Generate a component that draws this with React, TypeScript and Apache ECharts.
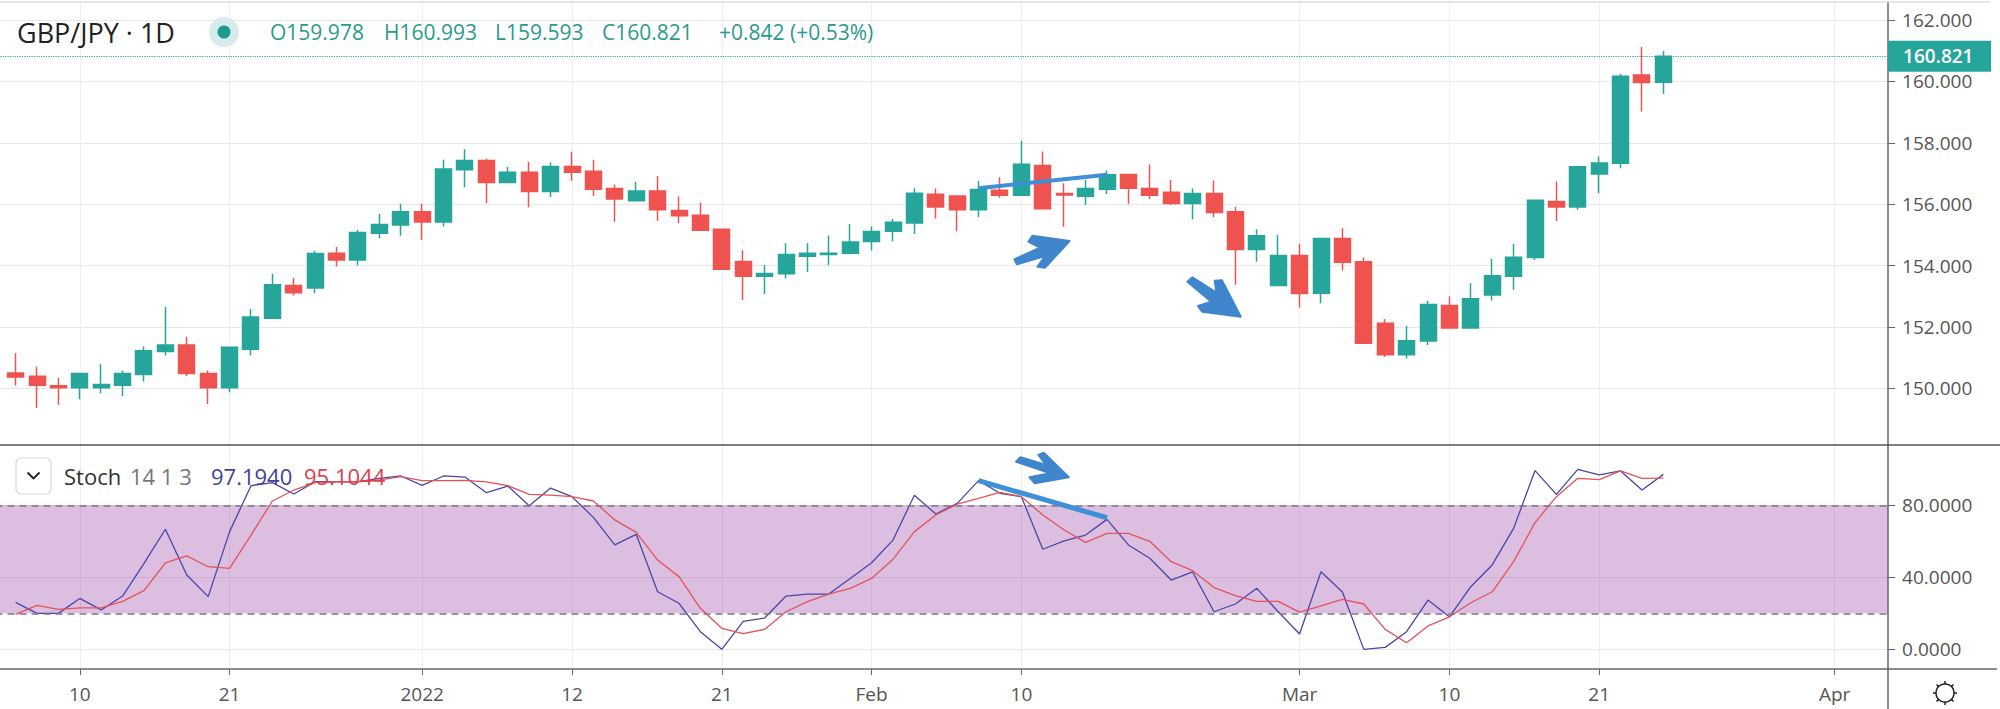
import {useEffect, useRef} from 'react';
import * as echarts from 'echarts';

const FONT = '"Open Sans", sans-serif';
const UP = '#26a69a';
const DOWN = '#ef5350';
const TREND = '#3f8fd9';

// one value per daily bar
const opens = [
    150.50, 150.39, 150.08, 150.02, 150.02, 150.10, 150.45, 151.20, 151.41, 150.48,
    150.02, 151.27, 152.28, 153.35, 153.27, 154.40, 154.18, 155.05, 155.32, 155.75,
    155.42, 157.12, 157.42, 156.71, 157.04, 156.41, 157.23, 157.07, 156.51, 156.11,
    156.43, 155.79, 155.64, 155.18, 154.13, 153.65, 153.73, 154.30, 154.36, 154.40,
    154.78, 155.12, 155.39, 156.32, 156.27, 155.82, 156.45, 156.29, 157.26, 156.35,
    156.26, 156.49, 156.97, 156.51, 156.39, 156.02, 156.35, 155.75, 154.52, 153.35,
    154.33, 153.10, 154.88, 154.12, 152.12, 151.09, 151.54, 152.70, 151.96, 153.04,
    153.65, 154.26, 156.09, 155.91, 156.98, 157.33, 160.21, 159.978
];
const closes = [
    150.37, 150.10, 150.02, 150.48, 150.12, 150.48, 151.22, 151.41, 150.48, 150.02,
    151.34, 152.32, 153.37, 153.11, 154.39, 154.18, 155.08, 155.34, 155.75, 155.42,
    157.15, 157.42, 156.71, 157.04, 156.41, 157.23, 157.04, 156.49, 156.17, 156.43,
    155.82, 155.62, 155.15, 153.88, 153.65, 153.74, 154.36, 154.40, 154.40, 154.77,
    155.11, 155.41, 156.36, 155.91, 155.82, 156.48, 156.29, 157.30, 155.85, 156.30,
    156.51, 156.96, 156.52, 156.29, 156.02, 156.35, 155.73, 154.52, 154.97, 154.33,
    153.09, 154.88, 154.11, 151.47, 151.09, 151.55, 152.73, 151.96, 152.92, 153.67,
    154.27, 156.13, 155.91, 157.22, 157.34, 160.17, 159.97, 160.821
];
const lows = [
    150.09, 149.36, 149.46, 149.64, 149.84, 149.75, 150.22, 151.07, 150.40, 149.49,
    149.87, 151.07, 152.28, 153.02, 153.10, 153.97, 154.00, 154.88, 154.97, 154.84,
    155.27, 156.55, 156.03, 156.68, 155.90, 156.23, 156.76, 156.27, 155.43, 156.09,
    155.46, 155.38, 155.15, 153.88, 152.88, 153.07, 153.58, 153.79, 154.01, 154.37,
    154.49, 154.79, 155.03, 155.53, 155.12, 155.58, 156.21, 156.29, 155.85, 155.26,
    155.97, 156.33, 156.01, 156.16, 155.97, 155.51, 155.57, 153.37, 154.12, 153.35,
    152.63, 152.77, 153.84, 151.47, 151.02, 150.97, 151.41, 151.96, 151.96, 152.86,
    153.21, 154.18, 155.45, 155.82, 156.36, 157.17, 159.02, 159.593
];
const highs = [
    151.14, 150.71, 150.33, 150.48, 150.78, 150.58, 151.36, 152.66, 151.68, 150.58,
    151.34, 152.58, 153.73, 153.60, 154.49, 154.60, 155.16, 155.68, 156.01, 156.01,
    157.45, 157.79, 157.48, 157.21, 157.38, 157.36, 157.71, 157.45, 156.64, 156.73,
    156.92, 156.25, 156.05, 155.18, 154.50, 154.02, 154.73, 154.73, 154.98, 155.35,
    155.27, 155.52, 156.52, 156.51, 156.27, 156.76, 156.88, 158.07, 157.72, 156.68,
    156.79, 157.10, 156.97, 157.29, 156.79, 156.51, 156.77, 155.92, 155.18, 155.00,
    154.70, 154.88, 155.22, 154.26, 152.26, 152.03, 152.85, 152.99, 153.42, 154.21,
    154.70, 156.13, 156.74, 157.22, 157.55, 160.25, 161.13, 160.993
];
const stochK = [
    26.1, 20.0, 20.0, 28.3, 21.9, 29.6, 47.8, 66.7, 41.3, 29.3,
    65.4, 90.9, 92.6, 86.3, 93.1, 93.1, 93.1, 95.0, 96.3, 91.1,
    96.3, 95.7, 87.0, 90.7, 79.8, 89.6, 84.8, 73.3, 58.0, 63.9,
    32.0, 25.6, 9.8, 0.0, 15.6, 17.4, 29.6, 30.7, 30.7, 39.4,
    48.1, 60.7, 85.6, 75.2, 81.1, 93.7, 86.7, 84.8, 55.6, 60.2,
    63.5, 72.2, 58.0, 50.6, 38.5, 43.0, 20.9, 25.2, 33.9, 20.9,
    8.5, 43.1, 31.9, 0.0, 1.1, 9.8, 27.4, 18.1, 34.8, 46.9,
    67.2, 99.3, 86.1, 100.0, 96.9, 99.1, 88.5, 97.19
];
const stochD = [
    19.4, 24.4, 22.2, 23.0, 23.1, 26.7, 32.6, 48.1, 51.9, 45.9,
    45.0, 63.5, 82.4, 88.5, 92.6, 93.1, 93.1, 94.1, 95.9, 93.7,
    93.7, 93.9, 93.0, 90.9, 86.1, 85.7, 84.8, 82.4, 71.9, 65.0,
    49.6, 40.4, 22.8, 11.7, 8.7, 11.1, 20.9, 26.5, 30.7, 33.9,
    39.4, 50.0, 65.4, 74.6, 80.7, 83.9, 87.2, 84.8, 74.6, 66.3,
    59.4, 64.4, 64.4, 60.0, 48.7, 43.7, 34.3, 29.8, 26.7, 26.7,
    20.7, 24.1, 27.8, 25.2, 11.1, 3.7, 13.0, 18.1, 25.9, 32.0,
    48.7, 70.4, 84.8, 95.0, 94.3, 99.1, 95.0, 95.10
];

const tickBars = [3, 10, 19, 26, 33, 40, 47, 60, 67, 74, 85];
const tickNames = ['10', '21', '2022', '12', '21', 'Feb', '10', 'Mar', '10', '21', 'Apr'];
const priceTicks = [150, 152, 154, 156, 158, 160, 162];
const stochTicks = [0, 40, 80];
const lastPrice = 160.821;

const priceTrendBars = [45, 51];
const priceTrendValues = [156.52, 156.96];
const stochTrendBars = [45, 51];
const stochTrendValues = [93.7, 73.1];

// the first slot is an empty one that pushes the plot past the left edge
const SLOTS = 89;
const categories = Array.from({length: SLOTS}, () => '');
tickBars.forEach((bar, i) => {
    categories[bar + 1] = tickNames[i];
});
const pad = (values: number[]) => ['-', ...values];
const candles = [['-', '-', '-', '-'], ...opens.map((o, i) => [o, closes[i], lows[i], highs[i]])];

const isTick = (_: number, name: string) => name !== '';
const trendLine = (bars: number[], values: number[], width: number) => ({
    silent: true,
    symbol: 'none',
    label: {show: false},
    lineStyle: {color: TREND, width, type: 'solid'},
    data: [[{coord: [bars[0] + 1, values[0]]}, {coord: [bars[1] + 1, values[1]]}]]
});

const label = (text: string, x: number, y: number, size: number, fill: string) => ({
    type: 'text',
    z: 20,
    style: {text, x, y, fill, font: `${size}px ${FONT}`, verticalAlign: 'middle'}
});
const rule = (x1: number, y1: number, x2: number, y2: number, stroke: string, lineWidth = 1.5) => ({
    type: 'line',
    z: 15,
    shape: {x1, y1, x2, y2},
    style: {stroke, lineWidth}
});
const arrow = (points: number[][]) => ({
    type: 'polygon',
    z: 18,
    shape: {points},
    style: {fill: '#3f86cc', stroke: '#3f86cc', lineWidth: 2, lineJoin: 'round'}
});

const sunRays = [0, 45, 90, 135, 180, 225, 270, 315].map(deg => {
    const a = (deg * Math.PI) / 180;
    return rule(1945 + 9 * Math.cos(a), 693 + 9 * Math.sin(a), 1945 + 12 * Math.cos(a), 693 + 12 * Math.sin(a), '#222', 1.5);
});

const overlays = [
    rule(0, 2, 1990, 2, '#dcdcdc'),
    rule(1888, 445, 2000, 445, '#555'),
    rule(1888, 669, 1997, 669, '#666'),
    rule(1888, 669, 1888, 709, '#666'),
    label('GBP/JPY · 1D', 17, 32, 27, '#222'),
    {type: 'circle', z: 19, shape: {cx: 224, cy: 32, r: 15}, style: {fill: '#d6ecea'}},
    {type: 'circle', z: 20, shape: {cx: 224, cy: 32, r: 6.5}, style: {fill: '#1f9a8f'}},
    label('O159.978', 270, 32, 21, '#2b9a8e'),
    label('H160.993', 384, 32, 21, '#2b9a8e'),
    label('L159.593', 495, 32, 21, '#2b9a8e'),
    label('C160.821', 602, 32, 21, '#2b9a8e'),
    label('+0.842 (+0.53%)', 719, 32, 21, '#2b9a8e'),
    {
        type: 'rect',
        z: 19,
        shape: {x: 16, y: 458, width: 35, height: 36, r: 5},
        style: {fill: '#fff', stroke: '#d8d8d8', lineWidth: 1.2}
    },
    {
        type: 'polyline',
        z: 20,
        shape: {points: [[27.5, 472.5], [33.5, 478.5], [39.5, 472.5]]},
        style: {fill: 'none', stroke: '#222', lineWidth: 1.8}
    },
    label('Stoch', 64, 476, 22, '#333'),
    label('14 1 3', 130, 476, 22, '#777'),
    label('97.1940', 211, 476, 22, '#3f429a'),
    label('95.1044', 304, 476, 22, '#d9424e'),
    arrow([[1014.4, 259.3], [1040, 247.7], [1028.3, 241.7], [1032.5, 235.7], [1069.5, 241], [1045.1, 267.7], [1037.5, 266.7], [1045.1, 256], [1016.9, 264.3]]),
    arrow([[1187.4, 281.7], [1192.4, 277.3], [1216.4, 292.7], [1214.7, 280.7], [1221.9, 280.3], [1240.8, 316.7], [1202.1, 311.7], [1197.9, 306], [1211.3, 301.7]]),
    arrow([[1016, 461.7], [1020.5, 457.3], [1046, 465], [1038.4, 455], [1043.8, 452.7], [1068.8, 477.3], [1034.8, 483.3], [1029.5, 477.3], [1050.4, 473.3]]),
    {type: 'circle', z: 20, shape: {cx: 1945, cy: 693, r: 9}, style: {fill: '#fff', stroke: '#222', lineWidth: 1.5}},
    ...sunRays
];

export default function App() {
    const ref = useRef<HTMLDivElement | null>(null);

    useEffect(() => {
        const chart = echarts.init(ref.current, null, {renderer: 'svg'});
        chart.setOption({
            animation: false,
            backgroundColor: '#fff',
            textStyle: {fontFamily: FONT},
            grid: [
                {left: -16.5, width: 1904.6, top: 2, height: 443, outerBoundsMode: 'none'},
                {left: -16.5, width: 1904.6, top: 445, height: 224, outerBoundsMode: 'none'}
            ],
            xAxis: [0, 1].map(gridIndex => ({
                type: 'category',
                gridIndex,
                data: categories,
                axisLine: {onZero: false, lineStyle: {color: gridIndex ? '#666' : '#555', width: 1.5}},
                axisTick: {show: gridIndex === 1, alignWithLabel: true, interval: isTick, length: 6, lineStyle: {color: '#666'}},
                axisLabel: {show: gridIndex === 1, interval: isTick, fontSize: 19, color: '#555', margin: 15, hideOverlap: false},
                splitLine: {show: true, interval: isTick, alignWithLabel: true, lineStyle: {color: '#eceef0', width: 1}}
            })),
            yAxis: [
                {
                    type: 'value',
                    gridIndex: 0,
                    position: 'right',
                    min: 148.15,
                    max: 162.59,
                    axisLine: {show: true, onZero: false, lineStyle: {color: '#666', width: 1.5}},
                    axisTick: {show: true, length: 7, customValues: priceTicks, lineStyle: {color: '#666'}},
                    axisLabel: {customValues: priceTicks, fontSize: 19, color: '#555', margin: 14, formatter: (v: number) => v.toFixed(3)},
                    splitLine: {show: true, lineStyle: {color: '#e8e8e8', width: 1}}
                },
                {
                    type: 'value',
                    gridIndex: 1,
                    position: 'right',
                    min: -10.9,
                    max: 113.5,
                    axisLine: {show: true, onZero: false, lineStyle: {color: '#666', width: 1.5}},
                    axisTick: {show: true, length: 7, customValues: stochTicks, lineStyle: {color: '#666'}},
                    axisLabel: {customValues: stochTicks, fontSize: 19, color: '#555', margin: 14, formatter: (v: number) => v.toFixed(4)},
                    splitLine: {show: true, lineStyle: {color: '#e8e8e8', width: 1}}
                }
            ],
            series: [
                {
                    name: 'GBP/JPY',
                    type: 'candlestick',
                    xAxisIndex: 0,
                    yAxisIndex: 0,
                    barWidth: 16.5,
                    data: candles,
                    itemStyle: {color: UP, color0: DOWN, borderColor: UP, borderColor0: DOWN, borderWidth: 1.5},
                    markLine: {
                        silent: true,
                        symbol: 'none',
                        lineStyle: {color: UP, type: 'dotted', width: 1.2},
                        label: {
                            position: 'end',
                            distance: 0,
                            formatter: lastPrice.toFixed(3),
                            color: '#fff',
                            fontSize: 19,
                            fontWeight: 600,
                            backgroundColor: UP,
                            width: 88,
                            height: 31,
                            lineHeight: 31,
                            padding: [0, 0, 0, 15],
                            align: 'left'
                        },
                        data: [{yAxis: lastPrice}]
                    }
                },
                {
                    name: 'Price trend',
                    type: 'line',
                    xAxisIndex: 0,
                    yAxisIndex: 0,
                    data: [],
                    markLine: trendLine(priceTrendBars, priceTrendValues, 4)
                },
                {
                    name: '%K',
                    type: 'line',
                    xAxisIndex: 1,
                    yAxisIndex: 1,
                    data: pad(stochK),
                    symbol: 'none',
                    lineStyle: {color: '#4a46a6', width: 1.3},
                    markArea: {
                        silent: true,
                        itemStyle: {color: 'rgba(150, 60, 160, 0.33)'},
                        data: [[{yAxis: 80}, {yAxis: 20}]]
                    },
                    markLine: {
                        silent: true,
                        symbol: 'none',
                        label: {show: false},
                        lineStyle: {color: '#85708c', type: [7, 5], width: 1.5},
                        data: [{yAxis: 80}, {yAxis: 20}]
                    }
                },
                {
                    name: '%D',
                    type: 'line',
                    xAxisIndex: 1,
                    yAxisIndex: 1,
                    data: pad(stochD),
                    symbol: 'none',
                    lineStyle: {color: '#e2535c', width: 1.3},
                    markLine: trendLine(stochTrendBars, stochTrendValues, 5)
                }
            ],
            graphic: overlays
        });
        return () => chart.dispose();
    }, []);

    return <div ref={ref} style={{position: 'absolute', left: 0, top: 0, width: 2000, height: 709}}/>;
}
